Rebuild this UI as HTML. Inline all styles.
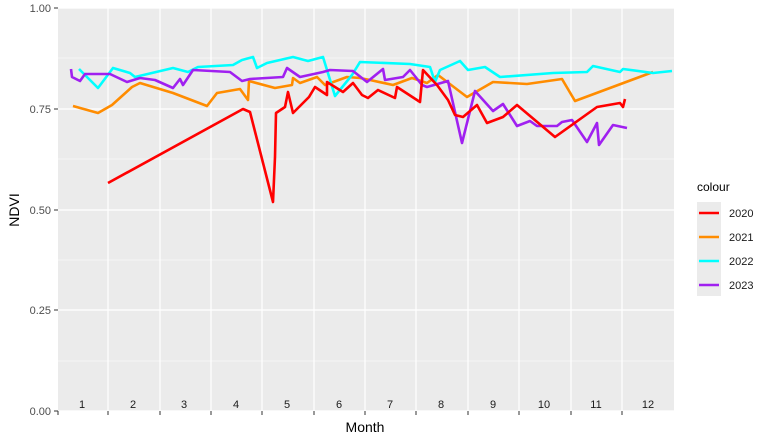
<!DOCTYPE html>
<html><head><style>body{margin:0;background:#fff}</style></head><body>
<svg width="773" height="442" xmlns="http://www.w3.org/2000/svg" font-family="Liberation Sans, sans-serif">
<rect x="58" y="8" width="616" height="403" fill="#ebebeb"/>
<g stroke="#fff" stroke-width="0.6">
<line x1="58" x2="674" y1="361" y2="361"/><line x1="58" x2="674" y1="260" y2="260"/><line x1="58" x2="674" y1="159" y2="159"/><line x1="58" x2="674" y1="58" y2="58"/>
</g>
<g stroke="#fff" stroke-width="1.2">
<line x1="58" x2="674" y1="411" y2="411"/><line x1="58" x2="674" y1="310" y2="310"/><line x1="58" x2="674" y1="210" y2="210"/><line x1="58" x2="674" y1="109" y2="109"/><line x1="58" x2="674" y1="8" y2="8"/>
<line x1="108" x2="108" y1="8" y2="411"/><line x1="160" x2="160" y1="8" y2="411"/><line x1="211" x2="211" y1="8" y2="411"/><line x1="262" x2="262" y1="8" y2="411"/><line x1="314" x2="314" y1="8" y2="411"/><line x1="365" x2="365" y1="8" y2="411"/><line x1="416" x2="416" y1="8" y2="411"/><line x1="468" x2="468" y1="8" y2="411"/><line x1="519" x2="519" y1="8" y2="411"/><line x1="571" x2="571" y1="8" y2="411"/><line x1="622" x2="622" y1="8" y2="411"/>
</g>
<g stroke="#333" stroke-width="1">
<line x1="54" x2="58" y1="411" y2="411"/><line x1="54" x2="58" y1="310" y2="310"/><line x1="54" x2="58" y1="210" y2="210"/><line x1="54" x2="58" y1="109" y2="109"/><line x1="54" x2="58" y1="8" y2="8"/>
<line x1="58" x2="58" y1="411" y2="415"/><line x1="108" x2="108" y1="411" y2="415"/><line x1="160" x2="160" y1="411" y2="415"/><line x1="211" x2="211" y1="411" y2="415"/><line x1="262" x2="262" y1="411" y2="415"/><line x1="314" x2="314" y1="411" y2="415"/><line x1="365" x2="365" y1="411" y2="415"/><line x1="416" x2="416" y1="411" y2="415"/><line x1="468" x2="468" y1="411" y2="415"/><line x1="519" x2="519" y1="411" y2="415"/><line x1="571" x2="571" y1="411" y2="415"/><line x1="622" x2="622" y1="411" y2="415"/>
</g>
<g font-size="11" fill="#4d4d4d" text-anchor="end">
<text x="51" y="415">0.00</text><text x="51" y="314">0.25</text><text x="51" y="214">0.50</text><text x="51" y="113">0.75</text><text x="51" y="12">1.00</text>
</g>
<g font-size="11" fill="#1a1a1a" text-anchor="middle">
<text x="82" y="408">1</text><text x="133" y="408">2</text><text x="184" y="408">3</text><text x="236" y="408">4</text><text x="287" y="408">5</text><text x="339" y="408">6</text><text x="390" y="408">7</text><text x="441" y="408">8</text><text x="493" y="408">9</text><text x="544" y="408">10</text><text x="596" y="408">11</text><text x="648" y="408">12</text>
</g>
<text x="365" y="432" font-size="14" text-anchor="middle">Month</text>
<text transform="translate(19,210) rotate(-90)" font-size="14" text-anchor="middle">NDVI</text>
<g fill="none" stroke-width="2.6" stroke-linejoin="round">
<polyline stroke="#ff8c00" points="73,106 98,113 112,105 132,87 140,83 173,93 207,106 217,93 240,89 248,100 249,81 275,88 292,85 293,78 300,83 317,77 325,85 347,77 360,78 370,80 393,85 412,78 427,83 438,75 467,97 493,82 527,84 562,79 575,101 653,72"/>
<polyline stroke="#00ffff" points="79,69 98,88 113,68 130,73 135,77 173,68 188,72 198,67 233,65 242,60 253,57 257,68 267,63 293,57 308,61 323,57 335,96 352,75 360,62 410,64 430,67 435,82 440,70 460,61 468,70 485,67 500,77 553,73 587,72 593,66 620,72 623,69 653,73 672,71"/>
<polyline stroke="#a020f0" points="71,69 72,77 80,81 85,74 110,74 127,82 140,78 155,80 173,88 180,79 183,85 193,70 230,72 242,81 250,79 283,77 287,68 300,77 323,72 330,70 353,71 367,82 383,69 385,80 403,77 410,70 422,85 427,87 448,81 462,143 475,91 493,111 503,104 517,126 530,121 537,126 557,126 562,122 572,120 587,142 597,123 599,145 613,125 627,128"/>
<polyline stroke="#ff0000" points="108,183 243,109 250,112 273,202 275,157 276,113 285,107 288,92 293,113 309,97 315,87 327,95 327,82 335,87 343,92 353,83 362,95 368,98 378,90 395,98 397,87 420,102 423,70 437,85 448,100 455,115 463,117 477,105 487,123 503,117 517,105 555,137 597,107 620,103 623,107 625,99"/>
</g>
<text x="697" y="191" font-size="12">colour</text>
<g>
<rect x="697" y="202" width="24" height="94" fill="#ebebeb"/>
<g stroke-width="2.6"><line x1="699" x2="719" y1="213" y2="213" stroke="#ff0000"/><line x1="699" x2="719" y1="237" y2="237" stroke="#ff8c00"/><line x1="699" x2="719" y1="261" y2="261" stroke="#00ffff"/><line x1="699" x2="719" y1="285" y2="285" stroke="#a020f0"/></g>
<g font-size="11" fill="#1a1a1a"><text x="729" y="217">2020</text><text x="729" y="241">2021</text><text x="729" y="265">2022</text><text x="729" y="289">2023</text></g>
</g>
</svg>
</body></html>
